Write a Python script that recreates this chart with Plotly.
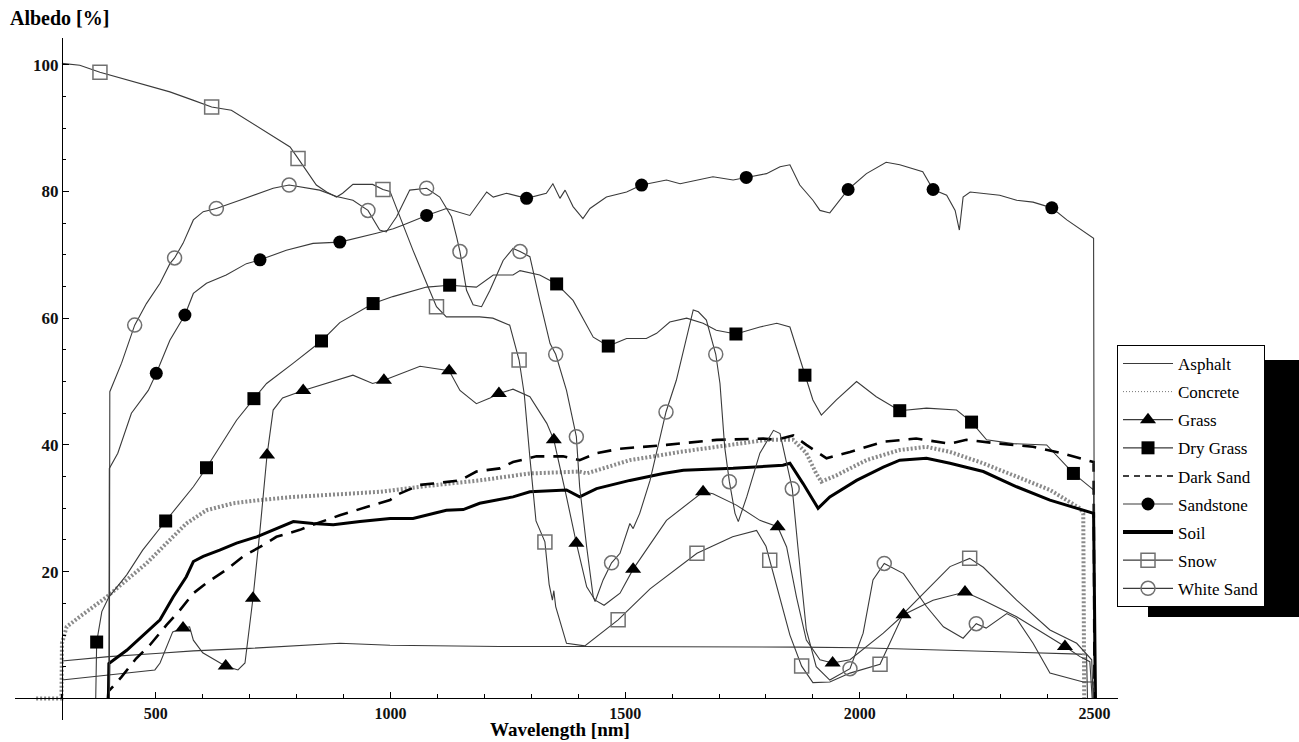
import plotly.graph_objects as go

# ---------------- data (wavelength nm, albedo %) ----------------
asphalt_wl = [300, 400, 500, 580, 700, 800, 892, 999, 1100, 1233, 1400, 1553, 1700, 1872, 2000, 2100, 2263, 2400, 2469, 2483, 2485]
asphalt_val = [5.9, 6.6, 7.1, 7.5, 7.9, 8.3, 8.7, 8.4, 8.3, 8.2, 8.2, 8.2, 8.2, 8.1, 8.0, 7.8, 7.5, 7.2, 7.0, 6.9, 0]

concrete_wl = [245, 299, 300, 310, 338, 366, 395, 438, 480, 523, 565, 608, 665, 722, 793, 864, 977, 1063, 1190, 1297,
               1403, 1418, 1510, 1553, 1617, 1695, 1801, 1858, 1886, 1907, 1918, 1950, 2014, 2085, 2142, 2192, 2263,
               2334, 2405, 2469, 2476, 2478]
concrete_val = [0, 0, 8.7, 11.3, 12.9, 14.5, 16.0, 18.7, 21.3, 24.5, 27.6, 29.7, 30.8, 31.3, 31.8, 32.1, 32.6, 33.4, 34.4, 35.5,
                35.8, 35.5, 37.6, 38.1, 38.9, 39.7, 40.8, 40.8, 38.7, 35.5, 34.2, 35.2, 37.6, 39.2, 39.7, 38.9, 37.1,
                35.0, 32.9, 30.0, 29.2, 0]

grass_wl = [300, 400, 498, 509, 523, 536, 558, 572, 580, 600, 649, 675, 690, 700, 707, 722, 737, 750, 770, 814, 920, 962,
            986, 1063, 1125, 1148, 1183, 1212, 1231, 1261, 1297, 1333, 1348, 1375, 1396, 1418, 1436, 1455, 1489, 1517,
            1588, 1666, 1687, 1737, 1787, 1825, 1844, 1865, 1886, 1915, 1942, 1979, 2050, 2093, 2156, 2224, 2263, 2334,
            2405, 2437, 2469, 2490, 2495]
grass_val = [2.9, 3.7, 4.5, 5.6, 8.2, 10.5, 11.1, 11.3, 9.2, 7.2, 5.1, 4.5, 5.6, 11.9, 15.8, 26.6, 38.4, 45.5, 47.4, 48.6, 51.0, 49.7,
             50.2, 52.4, 51.7, 48.6, 46.5, 47.4, 48.1, 48.8, 47.6, 43.4, 40.8, 31.8, 24.5, 17.6, 15.5, 14.7, 16.6, 20.4,
             28.1, 32.6, 32.3, 30.5, 28.1, 27.1, 23.9, 16.0, 9.2, 6.1, 5.6, 6.1, 10.3, 13.2, 15.5, 16.8, 15.5, 12.9,
             9.7, 8.2, 6.6, 5.8, 0]
grass_mk_wl = [558, 649, 707, 737, 814, 986, 1125, 1231, 1348, 1396, 1517, 1666, 1825, 1942, 2093, 2224, 2437]
grass_mk_val = [11.1, 5.1, 15.8, 38.4, 48.6, 50.2, 51.7, 48.1, 40.8, 24.5, 20.4, 32.6, 27.1, 5.6, 13.2, 16.8, 8.2]

drygrass_wl = [372, 374, 385, 400, 438, 472, 521, 551, 580, 608, 636, 672, 709, 736, 793, 853, 892, 963, 1005, 1077, 1126,
               1183, 1219, 1261, 1276, 1318, 1354, 1389, 1432, 1464, 1503, 1545, 1567, 1595, 1631, 1666, 1694, 1736,
               1787, 1823, 1851, 1883, 1900, 1918, 1950, 1993, 2035, 2085, 2142, 2206, 2238, 2270, 2327, 2398, 2455,
               2498, 2500]
drygrass_val = [0, 8.9, 13.7, 16.0, 19.5, 23.4, 28.0, 30.8, 33.4, 36.4, 39.7, 43.9, 47.3, 49.7, 52.9, 56.4, 59.3, 62.3, 63.4, 64.9, 65.2,
                64.9, 66.8, 66.8, 67.5, 66.8, 65.4, 62.8, 57.0, 55.6, 56.8, 56.8, 57.6, 59.4, 60.0, 59.2, 58.1, 57.5,
                58.6, 59.2, 58.6, 51.0, 47.1, 44.7, 47.1, 50.0, 47.6, 45.4, 45.8, 45.5, 43.6, 40.8, 40.2, 40.0, 35.5,
                32.9, 0]
drygrass_mk_wl = [374, 521, 608, 709, 853, 963, 1126, 1354, 1464, 1736, 1883, 2085, 2238, 2455]
drygrass_mk_val = [8.9, 28.0, 36.4, 47.3, 56.4, 62.3, 65.2, 65.4, 55.6, 57.5, 51.0, 45.4, 43.6, 35.5]

darksand_wl = [398, 399, 427, 458, 487, 523, 551, 580, 608, 650, 686, 722, 757, 807, 835, 892, 949, 999, 1013, 1063, 1091,
               1148, 1183, 1233, 1261, 1311, 1368, 1403, 1439, 1489, 1588, 1695, 1794, 1823, 1858, 1886, 1929, 1979,
               2050, 2120, 2192, 2227, 2298, 2369, 2419, 2469, 2498, 2500]
darksand_val = [0, 1.1, 3.4, 6.3, 8.4, 11.6, 13.9, 16.6, 18.2, 20.3, 22.4, 23.9, 25.5, 26.6, 27.4, 28.9, 30.2, 31.3, 32.1, 33.7, 33.9,
                34.4, 35.8, 36.3, 37.3, 38.2, 38.2, 37.6, 38.7, 39.4, 40.0, 40.8, 41.0, 40.8, 41.5, 40.0, 37.9, 38.9,
                40.5, 41.0, 40.2, 40.8, 40.2, 39.7, 38.9, 37.9, 37.3, 0]

sandstone_wl = [400, 401, 419, 448, 484, 501, 530, 562, 580, 608, 650, 693, 722, 778, 835, 892, 970, 1006, 1027, 1077, 1119,
                1141, 1169, 1205, 1219, 1247, 1290, 1332, 1346, 1361, 1372, 1389, 1410, 1425, 1460, 1503, 1535, 1588,
                1617, 1687, 1730, 1758, 1801, 1830, 1851, 1872, 1900, 1915, 1936, 1975, 2014, 2056, 2085, 2134, 2156,
                2185, 2203, 2212, 2220, 2235, 2298, 2334, 2369, 2409, 2441, 2498, 2500]
sandstone_val = [0, 36.3, 38.7, 45.0, 48.6, 51.3, 56.5, 60.5, 63.9, 65.5, 66.8, 68.6, 69.2, 70.7, 71.8, 72.0, 73.4, 74.1, 74.7, 76.2, 77.3,
                 76.8, 76.2, 79.9, 79.1, 79.7, 78.9, 79.7, 81.2, 78.9, 80.2, 77.6, 75.7, 77.3, 79.1, 79.9, 81.0, 81.8,
                 81.2, 82.3, 81.8, 82.2, 82.8, 83.9, 84.2, 81.0, 78.6, 77.0, 76.6, 80.3, 82.8, 84.6, 84.2, 83.1, 80.3,
                 79.4, 77.0, 73.9, 79.1, 79.9, 79.4, 78.6, 78.3, 77.4, 75.5, 72.6, 0]
sandstone_mk_wl = [501, 562, 722, 892, 1077, 1290, 1535, 1758, 1975, 2156, 2409]
sandstone_mk_val = [51.3, 60.5, 69.2, 72.0, 76.2, 78.9, 81.0, 82.2, 80.3, 80.3, 77.4]

soil_wl = [399, 400, 438, 473, 509, 537, 565, 580, 601, 636, 672, 715, 757, 793, 835, 878, 935, 999, 1048, 1119, 1155, 1190,
           1261, 1297, 1375, 1403, 1439, 1510, 1581, 1624, 1730, 1836, 1851, 1879, 1911, 1936, 1993, 2050, 2085, 2142,
           2192, 2263, 2334, 2405, 2498, 2502]
soil_val = [0, 5.5, 7.6, 10.0, 12.4, 16.0, 19.2, 21.6, 22.4, 23.4, 24.5, 25.5, 26.8, 27.9, 27.6, 27.4, 27.9, 28.4, 28.4, 29.7, 29.8, 30.8,
            31.8, 32.6, 32.9, 31.8, 33.1, 34.4, 35.5, 36.0, 36.3, 36.8, 37.1, 33.9, 30.0, 31.8, 34.4, 36.5, 37.6, 37.9,
            37.1, 35.8, 33.4, 31.3, 29.2, 0]

snow_wl = [300, 338, 381, 466, 530, 579, 619, 661, 707, 749, 786, 803, 821, 842, 864, 885, 898, 920, 962, 984, 999, 1020,
           1048, 1077, 1098, 1119, 1190, 1218, 1254, 1274, 1285, 1297, 1310, 1329, 1338, 1345, 1348, 1352, 1375, 1414,
           1485, 1553, 1653, 1729, 1780, 1800, 1808, 1830, 1851, 1876, 1900, 1936, 1979, 2043, 2093, 2192, 2234, 2263,
           2334, 2405, 2462, 2494, 2497]
snow_val = [100.2, 99.9, 98.8, 97.0, 95.7, 94.4, 93.3, 92.8, 90.7, 88.8, 87.0, 85.2, 83.3, 81.0, 79.9, 79.1, 79.7, 81.1, 81.1, 80.3,
            80.0, 76.0, 70.7, 65.5, 61.8, 60.2, 60.2, 60.0, 58.9, 53.4, 48.0, 38.0, 28.0, 24.7, 18.0, 15.5, 17.0, 14.5,
            8.7, 8.3, 12.4, 17.3, 22.9, 25.5, 26.5, 24.0, 21.8, 16.0, 10.0, 5.1, 2.5, 2.6, 4.0, 5.4, 13.4, 20.8, 22.1,
            20.7, 15.5, 10.8, 8.7, 6.1, 0]
snow_mk_wl = [381, 619, 803, 984, 1098, 1274, 1329, 1485, 1653, 1808, 1876, 2043, 2234]
snow_mk_val = [98.8, 93.3, 85.2, 80.3, 61.8, 53.4, 24.7, 12.4, 22.9, 21.8, 5.1, 5.4, 22.1]

whitesand_wl = [401, 402, 427, 455, 480, 509, 530, 540, 558, 580, 601, 629, 679, 722, 750, 784, 821, 849, 885, 920, 952, 977,
                991, 1013, 1041, 1077, 1105, 1130, 1141, 1148, 1162, 1176, 1194, 1212, 1240, 1261, 1276, 1297, 1318,
                1340, 1352, 1375, 1396, 1403, 1418, 1432, 1436, 1453, 1471, 1489, 1510, 1517, 1531, 1553, 1587, 1609,
                1645, 1656, 1673, 1693, 1702, 1712, 1722, 1734, 1741, 1759, 1787, 1816, 1830, 1844, 1856, 1868, 1886,
                1907, 1936, 1979, 2007, 2028, 2052, 2093, 2142, 2178, 2220, 2248, 2269, 2313, 2334, 2369, 2405, 2476,
                2498, 2500]
whitesand_val = [0, 48.4, 52.9, 58.9, 62.3, 65.5, 68.6, 69.5, 71.8, 75.5, 76.8, 77.3, 78.6, 79.7, 80.5, 81.0, 80.5, 80.2, 79.2, 78.6,
                 77.0, 73.9, 73.6, 76.0, 80.2, 80.5, 79.1, 76.0, 72.8, 70.5, 64.4, 62.1, 61.8, 64.4, 69.1, 71.0, 70.5,
                 69.7, 62.8, 56.0, 54.3, 48.6, 41.3, 33.4, 23.9, 16.0, 15.3, 18.7, 21.4, 22.9, 27.6, 26.8, 29.2, 34.4,
                 45.2, 50.2, 61.3, 61.0, 59.7, 54.3, 49.7, 39.7, 34.2, 29.2, 27.9, 31.8, 38.7, 42.3, 41.8, 37.1, 33.1,
                 23.9, 10.8, 5.0, 2.9, 4.7, 10.3, 18.7, 21.3, 19.7, 14.5, 11.3, 9.5, 11.8, 11.1, 13.4, 12.6, 8.7, 4.0,
                 2.6, 2.6, 0]
whitesand_mk_wl = [455, 540, 629, 784, 952, 1077, 1148, 1276, 1352, 1396, 1471, 1587, 1693, 1722, 1856, 1979, 2052, 2248]
whitesand_mk_val = [58.9, 69.5, 77.3, 81.0, 77.0, 80.5, 70.5, 70.5, 54.3, 41.3, 21.4, 45.2, 54.3, 34.2, 33.1, 4.7, 21.3, 11.8]

x_ticks = [500, 1000, 1500, 2000, 2500]
y_ticks = [20, 40, 60, 80, 100]

# ---------------- styling ----------------
LINE = "#3a3a3a"
GRAY = "#707070"
SERIF = "Liberation Serif"

fig = go.Figure()

def add_line(wl, val, line):
    fig.add_trace(go.Scatter(x=wl, y=val, mode="lines", line=line, showlegend=False, hoverinfo="skip"))

def add_markers(wl, val, marker):
    fig.add_trace(go.Scatter(x=wl, y=val, mode="markers", marker=marker, showlegend=False, hoverinfo="skip"))

thin = dict(color=LINE, width=1.1)
mk_tri = dict(symbol="triangle-up", size=14, color="#000")
mk_sq = dict(symbol="square", size=13, color="#000")
mk_ci = dict(symbol="circle", size=13, color="#000")
mk_sqo = dict(symbol="square-open", size=14, color=GRAY, line=dict(width=1.5, color=GRAY))
mk_cio = dict(symbol="circle-open", size=14, color=GRAY, line=dict(width=1.5, color=GRAY))

add_line(asphalt_wl, asphalt_val, thin)
add_line(concrete_wl, concrete_val, dict(color="#8a8a8a", width=4, dash="2px,2px"))
add_line(grass_wl, grass_val, thin)
add_line(drygrass_wl, drygrass_val, thin)
add_line(darksand_wl, darksand_val, dict(color="#000", width=2.6, dash="14px,9px"))
add_line(sandstone_wl, sandstone_val, thin)
add_line(soil_wl, soil_val, dict(color="#000", width=3))
add_line(snow_wl, snow_val, thin)
add_line(whitesand_wl, whitesand_val, thin)

add_markers(grass_mk_wl, grass_mk_val, mk_tri)
add_markers(drygrass_mk_wl, drygrass_mk_val, mk_sq)
add_markers(sandstone_mk_wl, sandstone_mk_val, mk_ci)
add_markers(snow_mk_wl, snow_mk_val, mk_sqo)
add_markers(whitesand_mk_wl, whitesand_mk_val, mk_cio)

# legend-only entries
legend_items = [
    ("Asphalt", "lines", dict(color=LINE, width=1.2), None),
    ("Concrete", "lines", dict(color="#777", width=1, dash="1px,2px"), None),
    ("Grass", "lines+markers", dict(color=LINE, width=1.2), mk_tri),
    ("Dry Grass", "lines+markers", dict(color=LINE, width=1.2), mk_sq),
    ("Dark Sand", "lines", dict(color="#000", width=1.5, dash="6px,5px"), None),
    ("Sandstone", "lines+markers", dict(color=LINE, width=1.2), mk_ci),
    ("Soil", "lines", dict(color="#000", width=4), None),
    ("Snow", "lines+markers", dict(color=LINE, width=1.2), mk_sqo),
    ("White Sand", "lines+markers", dict(color=LINE, width=1.2), mk_cio),
]
for name, mode, line, marker in legend_items:
    kw = dict(x=[None], y=[None], mode=mode, name=name, line=line, legendgroup=name, showlegend=True)
    if marker is not None:
        kw["marker"] = marker
    fig.add_trace(go.Scatter(**kw))

X0, X1 = 200, 2550
Y0, Y1 = -3.4, 104.2

fig.update_layout(
    width=1299, height=742,
    margin=dict(l=15, r=181, t=38, b=22),
    paper_bgcolor="white", plot_bgcolor="white",
    font=dict(family=SERIF, color="#000"),
    xaxis=dict(range=[X0, X1], domain=[0, 1], anchor="free", position=(0 - Y0) / (Y1 - Y0),
               showgrid=False, zeroline=False, showline=True, linecolor="#000", linewidth=1,
               tickmode="array", tickvals=x_ticks, ticks="inside", ticklen=6, tickcolor="#000",
               tickfont=dict(family=SERIF, size=16, weight="bold", color="#111"),
               minor=dict(tickmode="linear", tick0=0, dtick=100, ticks="inside", ticklen=4, tickcolor="#000")),
    yaxis=dict(range=[Y0, Y1], domain=[0, 1], anchor="free", position=(300 - X0) / (X1 - X0),
               showgrid=False, zeroline=False, showline=True, linecolor="#000", linewidth=1,
               tickmode="array", tickvals=y_ticks, ticks="inside", ticklen=6, tickcolor="#000",
               tickfont=dict(family=SERIF, size=17, weight="bold", color="#111"),
               minor=dict(tickmode="linear", tick0=0, dtick=5, ticks="inside", ticklen=3, tickcolor="#000")),
    legend=dict(x=0.9991, xanchor="left", y=0.5499, yanchor="top",
                bgcolor="white", bordercolor="#000", borderwidth=1,
                font=dict(family=SERIF, size=17, color="#000"),
                itemwidth=50, tracegroupgap=3, traceorder="grouped"),
    shapes=[dict(type="rect", xref="paper", yref="paper",
                 x0=(1148 - 15) / 1103, x1=(1300 - 15) / 1103,
                 y0=(720 - 617) / 682, y1=(720 - 360) / 682,
                 fillcolor="#000", line=dict(width=0), layer="below")],
    annotations=[
        dict(text="<b>Albedo [%]</b>", xref="paper", yref="paper", x=(8 - 15) / 1103, y=(720 - 18) / 682,
             xanchor="left", yanchor="middle", showarrow=False, font=dict(family=SERIF, size=20, color="#000")),
        dict(text="<b>Wavelength [nm]</b>", xref="paper", yref="paper", x=(560 - 15) / 1103, y=(720 - 742) / 682,
             xanchor="center", yanchor="bottom", showarrow=False, font=dict(family=SERIF, size=19, color="#000")),
    ],
)

fig.write_html("out.html")
